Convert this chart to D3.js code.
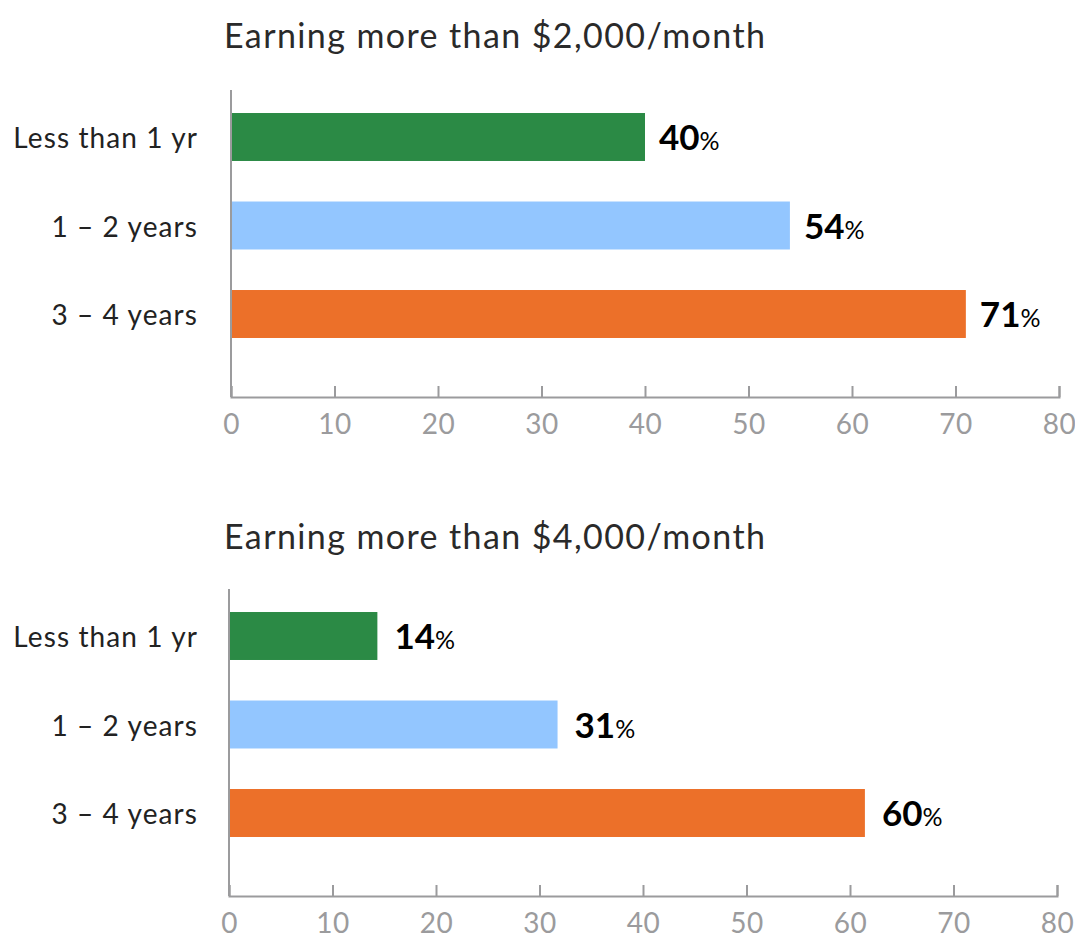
<!DOCTYPE html>
<html>
<head>
<meta charset="utf-8">
<script src="https://cdn.jsdelivr.net/npm/d3@7"></script>
<style>
  body { margin: 0; background: #fff; }
  text { font-family: Lato, "Open Sans", sans-serif; }
</style>
</head>
<body>
<div id="chart"></div>
<script>
// data
var categories = ["Less than 1 yr", "1 – 2 years", "3 – 4 years"];
var titles = ["Earning more than $2,000/month", "Earning more than $4,000/month"];
var over2000 = [40, 54, 71];
var over4000 = [14, 31, 60];
var tickValues = [0, 10, 20, 30, 40, 50, 60, 70, 80];
var barColors = ["#2b8a45", "#93c6ff", "#ec7029"];

var svgWidth = 1075;
var svgHeight = 951;

var svg = d3.select("#chart")
  .append("svg")
  .attr("width", svgWidth)
  .attr("height", svgHeight);

// one panel per income threshold
var panels = [
  { title: titles[0], values: over2000, top: 0, x0: 231, x1: 1059, stretch: 1, gap: 14 },
  { title: titles[1], values: over4000, top: 499, x0: 229, x1: 1057, stretch: 1.024, gap: 17 }
];

panels.forEach(function(p) {
  var g = svg.append("g")
    .attr("transform", `translate(0, ${p.top})`);

  var axisY = 397;

  var xScale = d3.scaleLinear()
    .domain([0, 80])
    .range([p.x0, p.x1]);

  // bars in the reference run slightly longer than the axis in the second panel
  var barScale = d3.scaleLinear()
    .domain([0, 80])
    .range([p.x0, p.x0 + (p.x1 - p.x0) * p.stretch]);

  var yScale = d3.scaleBand()
    .domain(categories)
    .range([92.75, 92.75 + 3 * 88.5])
    .paddingInner(0.458)
    .paddingOuter(0.229);

  // title
  g.append("text")
    .attr("x", 224)
    .attr("y", 48 + (p.top ? 2 : 0))
    .attr("fill", "#2a2a2a")
    .attr("font-size", 34)
    .attr("letter-spacing", 1.4)
    .text(p.title);

  // bars
  g.selectAll("rect.bar")
    .data(p.values)
    .enter()
    .append("rect")
    .attr("class", "bar")
    .attr("x", p.x0)
    .attr("y", (d, i) => yScale(categories[i]))
    .attr("width", d => barScale(d) - p.x0)
    .attr("height", yScale.bandwidth())
    .attr("fill", (d, i) => barColors[i]);

  // x axis, ticks pointing up
  var bottomAxis = d3.axisBottom(xScale)
    .tickValues(tickValues)
    .tickSizeInner(-11)
    .tickSizeOuter(-11)
    .tickPadding(0);

  var xAxis = g.append("g")
    .attr("transform", `translate(0, ${axisY})`)
    .call(bottomAxis);

  xAxis.selectAll("path, line")
    .attr("stroke", "#9b9b9d")
    .attr("stroke-width", 2);

  xAxis.selectAll("text")
    .attr("y", 37)
    .attr("dy", null)
    .attr("fill", "#9b9b9d")
    .attr("font-size", 28)
    .attr("letter-spacing", 0.5)
    .attr("font-family", "Lato, sans-serif");

  // vertical baseline
  g.append("line")
    .attr("x1", p.x0)
    .attr("x2", p.x0)
    .attr("y1", 90)
    .attr("y2", axisY)
    .attr("stroke", "#9b9b9d")
    .attr("stroke-width", 2);

  // category labels
  g.selectAll("text.cat")
    .data(categories)
    .enter()
    .append("text")
    .attr("class", "cat")
    .attr("x", 198)
    .attr("y", d => yScale(d) + yScale.bandwidth() / 2 + 11)
    .attr("text-anchor", "end")
    .attr("fill", "#222")
    .attr("font-size", 28)
    .attr("letter-spacing", 1.1)
    .text(d => d);

  // value labels
  var labels = g.selectAll("text.val")
    .data(p.values)
    .enter()
    .append("text")
    .attr("class", "val")
    .attr("x", d => barScale(d) + p.gap)
    .attr("y", (d, i) => yScale(categories[i]) + yScale.bandwidth() / 2 + 13)
    .attr("fill", "#000");

  labels.append("tspan")
    .attr("font-size", 35)
    .attr("font-weight", "bold")
    .text(d => d);

  labels.append("tspan")
    .attr("font-size", 25)
    .text("%");
});
</script>
</body>
</html>
